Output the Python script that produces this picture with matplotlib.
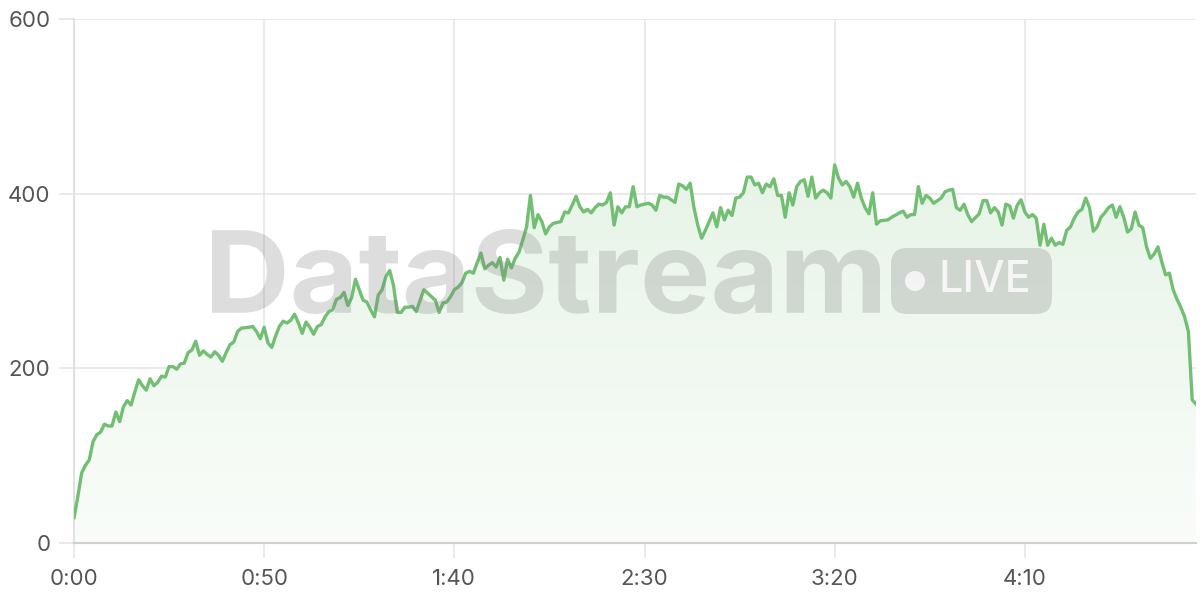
import numpy as np
import matplotlib
matplotlib.use("Agg")
import matplotlib.pyplot as plt
from matplotlib.patches import FancyBboxPatch, Circle, Polygon, PathPatch
from matplotlib.textpath import TextPath
from matplotlib.font_manager import FontProperties
from matplotlib.transforms import IdentityTransform, Affine2D

# seconds since start and values
t = [0, 1, 2, 3, 4, 5, 6, 7, 8, 9, 10, 11, 12, 13, 14, 15, 16, 17, 18, 19,
     20, 21, 22, 23, 24, 25, 26, 27, 28, 29, 30, 31, 32, 33, 34, 35, 36, 37, 38, 39,
     40, 41, 42, 43, 44, 46, 47, 48, 49, 50, 51, 52, 53, 54, 55, 56, 57, 58, 59,
     60, 61, 62, 63, 64, 65, 66, 67, 68, 69, 70, 71, 72, 73, 74, 75, 76, 77, 78, 79,
     80, 81, 82, 83, 84, 85, 86, 87, 88, 89, 90, 91, 92, 93, 94, 95, 96, 97, 98, 99,
     100, 101, 102, 103, 104, 105, 106, 107, 108, 109, 110, 111, 112, 113, 114, 115, 116, 117, 118, 119,
     120, 121, 122, 123, 124, 125, 126, 127, 128, 129, 130, 131, 132, 133, 134, 135, 136, 137, 138, 139,
     140, 141, 142, 143, 144, 145, 146, 147, 148, 149, 150, 151, 152, 153, 154, 155, 156, 157, 158, 159,
     160, 161, 162, 163, 164, 165, 166, 167, 168, 169, 170, 171, 172, 173, 174, 175, 176, 177, 178, 179,
     180, 181, 182, 183, 184, 185, 186, 187, 188, 189, 190, 191, 192, 193, 194, 195, 196, 197, 198, 199,
     200, 201, 202, 203, 204, 205, 206, 207, 208, 209, 210, 211, 212, 214, 215, 217, 218, 219,
     220, 221, 222, 223, 224, 225, 226, 228, 229, 230, 231, 232, 233, 234, 235, 236, 238, 239,
     240, 241, 242, 243, 244, 245, 246, 247, 248, 249, 250, 251, 252, 253, 254, 255, 256, 257, 258, 259,
     260, 261, 262, 263, 264, 265, 266, 267, 268, 269, 270, 271, 272, 273, 274, 275, 276, 277, 278, 279,
     280, 281, 282, 283, 284, 285, 286, 287, 288, 289, 290, 291, 292, 293, 294, 295]
values = [29, 53, 80, 89, 95, 116, 124, 127, 136, 134, 134, 150, 139, 156, 163, 158, 173, 187, 180, 175,
          188, 180, 184, 191, 190, 202, 202, 199, 205, 206, 218, 221, 231, 215, 220, 216, 213, 219, 215, 208,
          218, 227, 230, 242, 246, 247, 248, 242, 234, 247, 229, 224, 237, 248, 254, 252, 255, 262, 252,
          240, 253, 247, 239, 248, 250, 259, 265, 267, 279, 281, 287, 272, 281, 302, 290, 278, 276, 267, 259,
          284, 290, 305, 312, 295, 264, 264, 270, 270, 271, 265, 278, 290, 286, 282, 278, 264, 275, 276, 282,
          290, 293, 298, 309, 311, 309, 321, 332, 314, 318, 321, 316, 327, 301, 325, 315, 326, 333, 347, 362,
          398, 361, 376, 368, 354, 362, 366, 367, 368, 379, 378, 387, 397, 385, 379, 382, 378, 384, 388, 387,
          390, 401, 364, 385, 378, 385, 385, 408, 385, 387, 388, 389, 387, 381, 398, 396, 396, 393, 390, 411,
          409, 405, 412, 384, 364, 349, 358, 368, 378, 362, 384, 370, 381, 375, 395, 396, 401, 419, 419, 410,
          412, 401, 411, 408, 417, 398, 398, 373, 401, 387, 408, 414, 416, 397, 419, 395, 401, 404, 401, 395,
          433, 418, 410, 414, 408, 396, 412, 395, 384, 377, 401, 365, 369, 370, 373, 378, 380, 373,
          376, 376, 408, 389, 398, 395, 389, 395, 402, 404, 405, 384, 381, 388, 376, 368, 377, 392,
          392, 378, 384, 379, 364, 388, 386, 372, 387, 393, 379, 373, 376, 372, 341, 365, 341, 349, 341, 344,
          342, 358, 362, 372, 379, 382, 395, 384, 357, 362, 373, 378, 384, 387, 373, 385, 373, 356, 360, 379,
          364, 361, 339, 326, 331, 339, 322, 307, 309, 290, 279, 270, 259, 242, 164, 159]

x_ticks = [0, 50, 100, 150, 200, 250]
x_labels = ["0:00", "0:50", "1:40", "2:30", "3:20", "4:10"]
y_ticks = [0, 200, 400, 600]

line_color = "#72bf74"
grid_color = "#e6e6e6"
text_color = "#555555"

plt.rcParams["font.family"] = ["Inter", "DejaVu Sans"]

fig = plt.figure(figsize=(12, 6), dpi=100)
ax = fig.add_axes([74 / 1200, 57 / 600, 1122 / 1200, 524 / 600])

ax.set_xlim(0, 295)
ax.set_ylim(0, 600)

# gradient fill under the line
grad = np.linspace(0.06, 0.32, 256).reshape(-1, 1)
cmap = matplotlib.colors.LinearSegmentedColormap.from_list(
    "g", ["#ffffff", "#9fd3a0"])
img = ax.imshow(grad, extent=[0, 295, 0, 600], origin="lower", aspect="auto",
                cmap=cmap, vmin=0, vmax=1, zorder=1)
poly = Polygon(np.column_stack([[t[0]] + t + [t[-1]], [0] + values + [0]]),
               closed=True, transform=ax.transData, facecolor="none", edgecolor="none")
ax.add_patch(poly)
img.set_clip_path(poly)

ax.plot(t, values, color=line_color, lw=2.4, zorder=4)

# watermark, fitted into its box in pixel coordinates (origin bottom-left)
px = IdentityTransform()
tp = TextPath((0, 0), "DataStream", size=100,
              prop=FontProperties(family="Inter", weight="bold"))
ext = tp.get_extents()
fit = (Affine2D().translate(-ext.x0, -ext.y0)
       .scale(668 / ext.width, 85 / ext.height).translate(212, 286))
fig.add_artist(PathPatch(fit.transform_path(tp), transform=px, facecolor="#7a7a7a",
                         alpha=0.25, edgecolor="none", zorder=3))
badge = FancyBboxPatch((891, 286), 161, 66, boxstyle="round,pad=0,rounding_size=16",
                       transform=px, facecolor="#7a7a7a", alpha=0.25,
                       edgecolor="none", zorder=3)
fig.add_artist(badge)
fig.add_artist(Circle((915, 319), 10, transform=px,
                      facecolor="white", alpha=0.75, edgecolor="none", zorder=3.1))
fig.text(985, 319, "LIVE", transform=px, fontsize=31, fontweight="medium",
         color="white", alpha=0.8, ha="center", va="center", zorder=3.1)

ax.set_xticks(x_ticks)
ax.set_xticklabels(x_labels)
ax.set_yticks(y_ticks)
ax.grid(True, color=grid_color, lw=1.2, zorder=0)
ax.set_axisbelow(True)
ax.tick_params(axis="both", length=11, width=1.2, color=grid_color,
               labelcolor=text_color, labelsize=16)
ax.tick_params(axis="y", pad=6)
ax.tick_params(axis="x", pad=8)

for side in ["top", "right"]:
    ax.spines[side].set_visible(False)
ax.spines["left"].set_color("#dddddd")
ax.spines["left"].set_linewidth(1.2)
ax.spines["bottom"].set_color("#cfcfcf")
ax.spines["bottom"].set_linewidth(1.5)

fig.savefig("out.png", dpi=100)
